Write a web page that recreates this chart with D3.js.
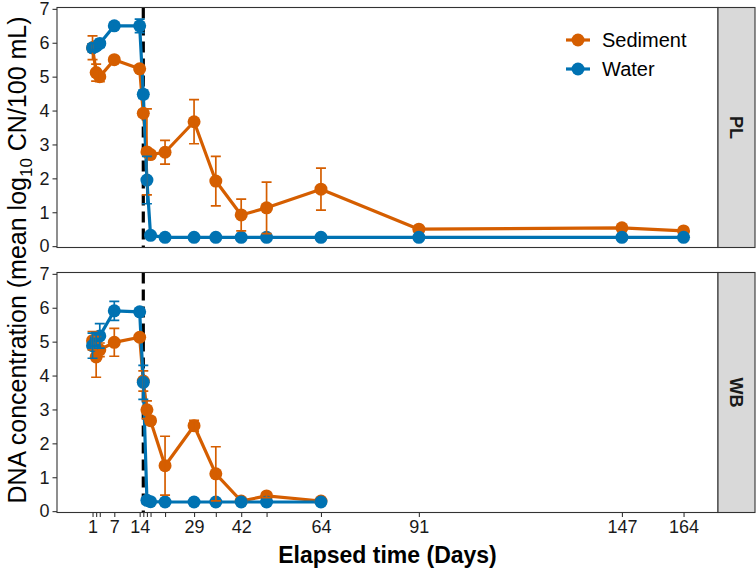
<!DOCTYPE html>
<html>
<head>
<meta charset="utf-8">
<script src="https://cdn.jsdelivr.net/npm/d3@7"></script>
<style>
  body { margin: 0; background: #fff; }
  text { font-family: "Liberation Sans", Arial, Helvetica, sans-serif; }
</style>
</head>
<body>
<div id="chart"></div>
<script>
// sampling days and which ones get a label
var days = [1, 2, 3, 7, 14, 15, 16, 17, 21, 29, 35, 42, 49, 64, 91, 147, 164];
var labeledDays = [1, 7, 14, 29, 42, 64, 91, 147, 164];
var wbDays = days.slice(0, 14);
var eventDay = 15;

// PL
var plSediment   = [5.85, 5.12, 5.00, 5.50, 5.23, 3.92, 2.78, 2.70, 2.77, 3.67, 1.92, 0.92, 1.13, 1.68, 0.50, 0.54, 0.45];
var plSedimentSE = [0.35, 0.25, 0.15, 0.08, 0.05, 0.10, 1.27, 0.10, 0.35, 0.65, 0.73, 0.47, 0.76, 0.62, 0.03, 0.03, 0.02];
var plWater      = [5.85, 5.90, 5.98, 6.50, 6.50, 4.48, 1.95, 0.32, 0.26, 0.26, 0.26, 0.26, 0.26, 0.26, 0.26, 0.26, 0.26];
var plWaterSE    = [0.12, 0.10, 0.12, 0.08, 0.20, 0.12, 0.70, 0.03, 0.01, 0.01, 0.01, 0.01, 0.01, 0.01, 0.01, 0.01, 0.01];

// WB
var wbSediment   = [5.03, 4.55, 4.76, 4.98, 5.13, 3.84, 2.99, 2.67, 1.34, 2.52, 1.10, 0.30, 0.45, 0.30];
var wbSedimentSE = [0.27, 0.60, 0.20, 0.41, 0.05, 0.30, 0.26, 0.10, 0.87, 0.16, 0.80, 0.03, 0.05, 0.02];
var wbWater      = [4.88, 5.07, 5.17, 5.91, 5.88, 3.80, 0.32, 0.28, 0.27, 0.27, 0.27, 0.27, 0.27, 0.27];
var wbWaterSE    = [0.37, 0.20, 0.36, 0.28, 0.08, 0.50, 0.03, 0.02, 0.01, 0.01, 0.01, 0.01, 0.01, 0.01];

var seriesNames = ['Sediment', 'Water'];
var colors = { Sediment: '#D55E00', Water: '#0072B2' };

function rows(x, y, se) {
    return x.map(function(d, i) { return { day: d, value: y[i], se: se[i] }; });
}

var facets = [
    { name: 'PL', series: [ { type: 'Sediment', data: rows(days, plSediment, plSedimentSE) },
                            { type: 'Water', data: rows(days, plWater, plWaterSE) } ] },
    { name: 'WB', series: [ { type: 'Sediment', data: rows(wbDays, wbSediment, wbSedimentSE) },
                            { type: 'Water', data: rows(wbDays, wbWater, wbWaterSE) } ] }
];

///////////// LAYOUT
var fullwidth = 756;
var fullheight = 570;
var panelLeft = 57, panelRight = 718, stripRight = 755;
var panelTops = [7.5, 272.5];
var panelHeight = 240;

var svg = d3.select('#chart')
    .append('svg')
    .attr('width', fullwidth)
    .attr('height', fullheight);

var x = d3.scaleLinear()
    .domain([-8.8, 173.5])
    .range([panelLeft, panelRight]);

var line = d3.line()
    .x(function(d) { return x(d.day); });

facets.forEach(function(f, fi) {
    var top = panelTops[fi];
    var bottom = top + panelHeight;
    var y = d3.scaleLinear().domain([-0.04, 7.04]).range([bottom, top]);
    line.y(function(d) { return y(d.value); });

    var g = svg.append('g');

    g.append('rect')
        .attr('x', panelLeft).attr('y', top)
        .attr('width', panelRight - panelLeft).attr('height', panelHeight)
        .attr('fill', '#fff');

    // event line
    g.append('line')
        .attr('x1', x(eventDay)).attr('x2', x(eventDay))
        .attr('y1', top).attr('y2', bottom)
        .attr('stroke', '#000')
        .attr('stroke-width', 3.2)
        .attr('stroke-dasharray', '11,6');

    f.series.forEach(function(s) {
        g.append('path')
            .datum(s.data)
            .attr('d', line)
            .attr('fill', 'none')
            .attr('stroke', colors[s.type])
            .attr('stroke-width', 3.2)
            .attr('stroke-linejoin', 'round');
    });

    f.series.forEach(function(s) {
        g.selectAll(null)
            .data(s.data)
            .enter()
            .append('circle')
            .attr('cx', function(d) { return x(d.day); })
            .attr('cy', function(d) { return y(d.value); })
            .attr('r', 6.5)
            .attr('fill', colors[s.type]);
    });

    f.series.forEach(function(s) {
        g.selectAll(null)
            .data(s.data.filter(function(d) { return d.se > 0.04; }))
            .enter()
            .append('path')
            .attr('d', function(d) {
                var cx = x(d.day), y1 = y(d.value + d.se), y2 = y(d.value - d.se);
                return 'M' + (cx - 5) + ',' + y1 + 'H' + (cx + 5) +
                       'M' + cx + ',' + y1 + 'V' + y2 +
                       'M' + (cx - 5) + ',' + y2 + 'H' + (cx + 5);
            })
            .attr('fill', 'none')
            .attr('stroke', colors[s.type])
            .attr('stroke-width', 1.7);
    });

    // border
    g.append('rect')
        .attr('x', panelLeft).attr('y', top)
        .attr('width', panelRight - panelLeft).attr('height', panelHeight)
        .attr('fill', 'none')
        .attr('stroke', '#333')
        .attr('stroke-width', 1.1);

    // strip
    g.append('rect')
        .attr('x', panelRight).attr('y', top)
        .attr('width', stripRight - panelRight).attr('height', panelHeight)
        .attr('fill', '#D9D9D9')
        .attr('stroke', '#333')
        .attr('stroke-width', 1.1);

    g.append('text')
        .attr('transform', 'translate(' + ((panelRight + stripRight) / 2) + ',' + (top + panelHeight / 2) + ') rotate(90)')
        .attr('text-anchor', 'middle')
        .attr('dy', '0.35em')
        .style('font-size', '18px')
        .style('font-weight', 'bold')
        .attr('fill', '#1a1a1a')
        .text(f.name);

    // y axis
    var yAxis = g.append('g')
        .attr('transform', 'translate(' + panelLeft + ',0)')
        .call(d3.axisLeft(y).tickValues(d3.range(0, 8)).tickSize(4.5).tickPadding(3));
    yAxis.select('.domain').remove();
    yAxis.selectAll('line').attr('stroke', '#333').attr('stroke-width', 1.1);
    yAxis.selectAll('text').style('font-size', '18px').attr('fill', '#1a1a1a')
        .style('font-family', '"Liberation Sans", Arial, sans-serif');

    if (fi === 1) {
        var xAxis = g.append('g')
            .attr('transform', 'translate(0,' + bottom + ')')
            .call(d3.axisBottom(x)
                .tickValues(days)
                .tickSize(4.5)
                .tickPadding(3)
                .tickFormat(function(d) { return labeledDays.indexOf(d) >= 0 ? d : ''; }));
        xAxis.select('.domain').remove();
        xAxis.selectAll('line').attr('stroke', '#333').attr('stroke-width', 1.1);
        xAxis.selectAll('text').style('font-size', '18px').attr('fill', '#1a1a1a')
            .style('font-family', '"Liberation Sans", Arial, sans-serif');
    }
});

// legend
var legend = svg.append('g');
seriesNames.forEach(function(name, i) {
    var ly = 40 + i * 29;
    legend.append('line')
        .attr('x1', 566).attr('x2', 590)
        .attr('y1', ly).attr('y2', ly)
        .attr('stroke', colors[name])
        .attr('stroke-width', 3.2);
    legend.append('circle')
        .attr('cx', 578).attr('cy', ly).attr('r', 6.5)
        .attr('fill', colors[name]);
    legend.append('text')
        .attr('x', 602).attr('y', ly)
        .attr('dy', '0.35em')
        .style('font-size', '20px')
        .attr('fill', '#000')
        .text(name);
});

// axis titles
svg.append('text')
    .attr('x', (panelLeft + panelRight) / 2)
    .attr('y', 563)
    .attr('text-anchor', 'middle')
    .style('font-size', '23px')
    .style('font-weight', 'bold')
    .text('Elapsed time (Days)');

var yTitle = svg.append('text')
    .attr('transform', 'translate(26,' + ((panelTops[0] + panelTops[1] + panelHeight) / 2) + ') rotate(-90)')
    .attr('text-anchor', 'middle')
    .style('font-size', '25px');
yTitle.append('tspan').text('DNA concentration (mean log');
yTitle.append('tspan').attr('dy', 6).style('font-size', '17px').text('10');
yTitle.append('tspan').attr('dy', -6).text(' CN/100 mL)');
</script>
</body>
</html>
